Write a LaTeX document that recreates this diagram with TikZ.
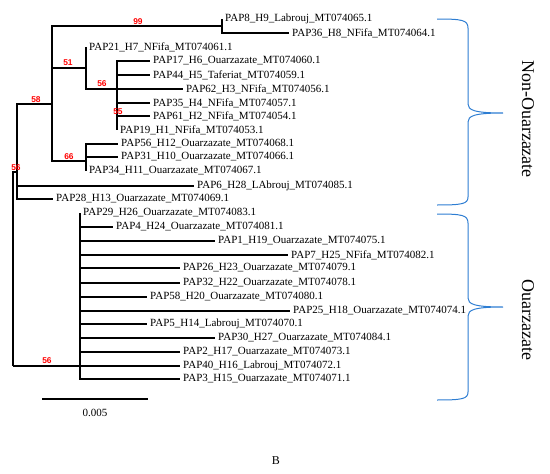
\documentclass[tikz,border=0pt]{standalone}
\usepackage{fontspec}
\setmainfont{Liberation Serif}
\newfontfamily\bootfont{Liberation Sans}
\usetikzlibrary{positioning}
\definecolor{azulchave}{RGB}{45,125,210}

\begin{document}
\begin{tikzpicture}[
x=1pt, y=-1pt,
folha/.style={anchor=west, inner xsep=3pt, inner ysep=0pt, font=\fontsize{11}{13}\selectfont},
ramo/.style={line width=1.4pt},
boot/.style={text=red, inner sep=0pt, font=\bootfont\bfseries\fontsize{8.4}{9}\selectfont},
chave/.style={azulchave, line width=1pt},
grupo/.style={rotate=-90, inner sep=0pt, font=\fontsize{18}{20}\selectfont}
]
\useasboundingbox (0,0) rectangle (550,474);
% nos internos
\coordinate (raiz) at (13,366);
\coordinate (c56) at (17,172);
\coordinate (c58) at (52,104);
\coordinate (c99) at (222,26);
\coordinate (c51) at (86,68);
\coordinate (c56b) at (117,89);
\coordinate (c66) at (86,161);
\coordinate (couar) at (80,366);
% folhas
\node[folha] (pap8) at (222,19) {PAP8\_H9\_Labrouj\_MT074065.1};
\node[folha] (pap36) at (289,33) {PAP36\_H8\_NFifa\_MT074064.1};
\node[folha] (pap21) at (86,47) {PAP21\_H7\_NFifa\_MT074061.1};
\node[folha] (pap17) at (150,61) {PAP17\_H6\_Ouarzazate\_MT074060.1};
\node[folha] (pap44) at (150,75) {PAP44\_H5\_Taferiat\_MT074059.1};
\node[folha] (pap62) at (183,89) {PAP62\_H3\_NFifa\_MT074056.1};
\node[folha] (pap35) at (150,103) {PAP35\_H4\_NFifa\_MT074057.1};
\node[folha] (pap61) at (150,116) {PAP61\_H2\_NFifa\_MT074054.1};
\node[folha] (pap19) at (117,130) {PAP19\_H1\_NFifa\_MT074053.1};
\node[folha] (pap56) at (118,144) {PAP56\_H12\_Ouarzazate\_MT074068.1};
\node[folha] (pap31) at (118,157) {PAP31\_H10\_Ouarzazate\_MT074066.1};
\node[folha] (pap34) at (86,171) {PAP34\_H11\_Ouarzazate\_MT074067.1};
\node[folha] (pap6) at (194,186) {PAP6\_H28\_LAbrouj\_MT074085.1};
\node[folha] (pap28) at (53,199) {PAP28\_H13\_Ouarzazate\_MT074069.1};
\node[folha] (pap29) at (80,213) {PAP29\_H26\_Ouarzazate\_MT074083.1};
\node[folha] (pap4) at (113,227) {PAP4\_H24\_Ouarzazate\_MT074081.1};
\node[folha] (pap1) at (215,241) {PAP1\_H19\_Ouarzazate\_MT074075.1};
\node[folha] (pap7) at (288,255) {PAP7\_H25\_NFifa\_MT074082.1};
\node[folha] (pap26) at (180,268) {PAP26\_H23\_Ouarzazate\_MT074079.1};
\node[folha] (pap32) at (180,283) {PAP32\_H22\_Ouarzazate\_MT074078.1};
\node[folha] (pap58) at (147,297) {PAP58\_H20\_Ouarzazate\_MT074080.1};
\node[folha] (pap25) at (290,311) {PAP25\_H18\_Ouarzazate\_MT074074.1};
\node[folha] (pap5) at (147,324) {PAP5\_H14\_Labrouj\_MT074070.1};
\node[folha] (pap30) at (215,338) {PAP30\_H27\_Ouarzazate\_MT074084.1};
\node[folha] (pap2) at (180,352) {PAP2\_H17\_Ouarzazate\_MT074073.1};
\node[folha] (pap40) at (180,366) {PAP40\_H16\_Labrouj\_MT074072.1};
\node[folha] (pap3) at (180,379) {PAP3\_H15\_Ouarzazate\_MT074071.1};
% ramos
\draw[ramo] (raiz) |- (c56);
\draw[ramo] (raiz) -- (couar);
\draw[ramo] (c56) |- (c58);
\draw[ramo] (c56) |- (pap6.west);
\draw[ramo] (c56) |- (pap28.west);
\draw[ramo] (c58) |- (c99);
\draw[ramo] (c58) |- (c51);
\draw[ramo] (c58) |- (c66);
\draw[ramo] (c99) |- (pap8.west);
\draw[ramo] (c99) |- (pap36.west);
\draw[ramo] (c51) |- (pap21.west);
\draw[ramo] (c51) |- (c56b);
\draw[ramo] (c56b) |- (pap17.west);
\draw[ramo] (c56b) |- (pap44.west);
\draw[ramo] (c56b) |- (pap62.west);
\draw[ramo] (c56b) |- (pap35.west);
\draw[ramo] (c56b) |- (pap61.west);
\draw[ramo] (c56b) |- (pap19.west);
\draw[ramo] (c66) |- (pap56.west);
\draw[ramo] (c66) |- (pap31.west);
\draw[ramo] (c66) |- (pap34.west);
\draw[ramo] (couar) |- (pap29.west);
\draw[ramo] (couar) |- (pap4.west);
\draw[ramo] (couar) |- (pap1.west);
\draw[ramo] (couar) |- (pap7.west);
\draw[ramo] (couar) |- (pap26.west);
\draw[ramo] (couar) |- (pap32.west);
\draw[ramo] (couar) |- (pap58.west);
\draw[ramo] (couar) |- (pap25.west);
\draw[ramo] (couar) |- (pap5.west);
\draw[ramo] (couar) |- (pap30.west);
\draw[ramo] (couar) |- (pap2.west);
\draw[ramo] (couar) |- (pap40.west);
\draw[ramo] (couar) |- (pap3.west);
% bootstrap
\node[boot] (b99) at (138,22) {99};
\node[boot] (b51) at (68,63) {51};
\node[boot] (b56b) at (102,84) {56};
\node[boot] (b55) at (118,112) {55};
\node[boot] (b58) at (36,100) {58};
\node[boot] (b66) at (69,157) {66};
\node[boot] (b56) at (16,168) {56};
\node[boot] (braiz) at (47,361) {56};
% escala
\coordinate (e0) at (42,399);
\coordinate (e1) at (148,399);
\draw[line width=1.2pt] (e0) -- (e1);
\node[font=\fontsize{11}{13}\selectfont] (escala) at (95,413) {0.005};
% chaves
\draw[chave] (437,19) .. controls (462,19) and (468,20) .. (468,28) -- (468,104)
  .. controls (468,110) and (474,113) .. (503,113)
  .. controls (474,113) and (468,116) .. (468,122) -- (468,197)
  .. controls (468,204) and (462,205) .. (437,205);
\draw[chave] (437,214) .. controls (462,214) and (468,215) .. (468,223) -- (468,298)
  .. controls (468,304) and (474,307) .. (503,307)
  .. controls (474,307) and (468,310) .. (468,316) -- (468,392)
  .. controls (468,399) and (462,400) .. (437,400);
\node[grupo] (nonouar) at (528,119) {Non-Ouarzazate};
\node[grupo] (ouar) at (528,320) {Ouarzazate};
\node[font=\fontsize{12}{14}\selectfont] (painel) at (276,461) {B};
\end{tikzpicture}
\end{document}
